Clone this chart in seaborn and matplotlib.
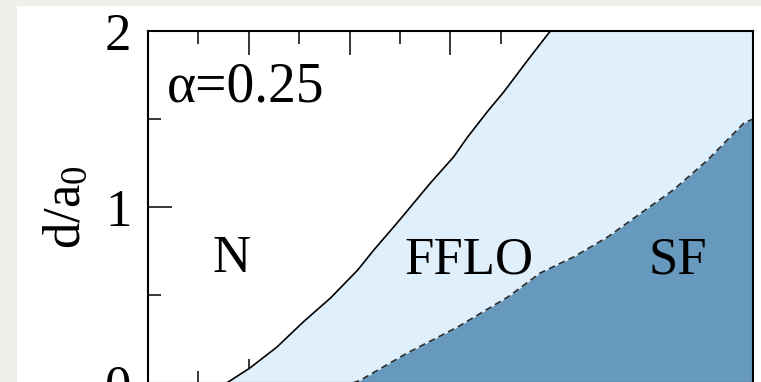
import numpy as np
import pandas as pd
import seaborn as sns
import matplotlib.pyplot as plt
from matplotlib.patches import Rectangle
from matplotlib.ticker import MultipleLocator

# ==============================================================================
# DADOS
# ==============================================================================
# fronteira N / FFLO (linha cheia)
n_fflo_x = [0.78, 1.01, 1.28, 1.54, 1.81, 2.08, 2.24, 2.47, 2.80, 3.03, 3.17, 3.37, 3.53, 3.76, 3.99]
n_fflo_y = [0.00, 0.085, 0.205, 0.347, 0.483, 0.642, 0.756, 0.909, 1.136, 1.284, 1.398, 1.545, 1.655, 1.83, 2.00]

# fronteira FFLO / SF (linha tracejada)
fflo_sf_x = [2.03, 2.11, 2.57, 3.07, 3.57, 3.89, 4.22, 4.56, 4.89, 5.21, 5.55, 5.91, 6.00]
fflo_sf_y = [0.00, 0.017, 0.170, 0.318, 0.489, 0.625, 0.716, 0.830, 0.966, 1.097, 1.267, 1.477, 1.50]

region_labels = ["N", "FFLO", "SF"]
region_pos = [(0.83, 0.63), (3.18, 0.625), (5.25, 0.625)]
alpha_label = "α=0.25"
y_ticks = [0, 1, 2]

X_MAX = 6.0
Y_MAX = 2.0

LIGHT = "#dff0fc"
DARK = "#6699bd"
FS = 38

# ==============================================================================
# FIGURA
# ==============================================================================
sns.set_theme(style="ticks")
plt.rcParams["font.family"] = ["Liberation Serif", "DejaVu Serif"]
plt.rcParams["mathtext.fontset"] = "custom"
plt.rcParams["mathtext.rm"] = "Liberation Serif"
plt.rcParams["mathtext.it"] = "Liberation Serif"
for k in ["text.color", "axes.labelcolor", "xtick.color", "ytick.color", "axes.edgecolor"]:
    plt.rcParams[k] = "black"

fig = plt.figure(figsize=(7.61, 3.82), dpi=100, facecolor="#efefeb")
panel = Rectangle((17 / 761, 0), 1, (382 - 6) / 382,
                  transform=fig.transFigure, facecolor="white",
                  edgecolor="none", zorder=-10)
fig.add_artist(panel)

ax = fig.add_axes([148 / 761, -1 / 382, 605 / 761, 352 / 382])
ax.set_zorder(1)
ax.set_facecolor("white")

df_solid = pd.DataFrame({"x": n_fflo_x, "y": n_fflo_y})
df_dash = pd.DataFrame({"x": fflo_sf_x, "y": fflo_sf_y})

# regiões preenchidas
ax.fill_betweenx(df_solid["y"], df_solid["x"], X_MAX, color=LIGHT, lw=0, zorder=1)
ax.fill_between(df_dash["x"], 0, df_dash["y"], color=DARK, lw=0, zorder=2)

sns.lineplot(data=df_solid, x="x", y="y", sort=False, color="black", lw=1.2, ax=ax, zorder=3)
sns.lineplot(data=df_dash, x="x", y="y", sort=False, color="#2a2a2a", lw=1.2,
             linestyle=(0, (4, 2.5)), ax=ax, zorder=3)

ax.set_xlim(0, X_MAX)
ax.set_ylim(0, Y_MAX)

for lab, (xx, yy) in zip(region_labels, region_pos):
    ax.text(xx, yy, lab, fontsize=FS, ha="center", va="baseline", zorder=4)
ax.text(0.19, 1.60, alpha_label, fontsize=40, ha="left", va="baseline", zorder=4)

ax.set_ylabel(r"d/a$_0$", fontsize=FS, labelpad=10)
ax.set_xlabel("")

ax.set_yticks(y_ticks)
ax.yaxis.set_minor_locator(MultipleLocator(0.5))
ax.xaxis.set_major_locator(MultipleLocator(1))
ax.xaxis.set_minor_locator(MultipleLocator(0.5))
ax.tick_params(which="both", direction="in", top=True, right=True, bottom=True,
               left=True, labelbottom=False, color="black", width=1.1)
ax.tick_params(which="major", length=17, labelsize=FS, pad=12)
ax.tick_params(which="minor", length=9)
for s in ax.spines.values():
    s.set_linewidth(1.5)
    s.set_color("black")
    s.set_zorder(5)

plt.savefig("out.png", dpi=100, facecolor=fig.get_facecolor())
